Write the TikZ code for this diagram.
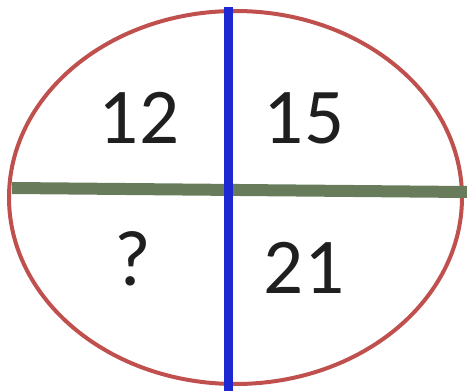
\documentclass[tikz,border=0pt]{standalone}
\usepackage{fontspec}
\setmainfont{Carlito}
\usetikzlibrary{positioning}
\definecolor{rimred}{RGB}{192,80,77}
\definecolor{splitblue}{RGB}{30,40,210}
\definecolor{splitgreen}{RGB}{104,124,92}

\begin{document}
\begin{tikzpicture}[x=1pt,y=-1pt,
  num/.style={font=\fontsize{79}{79}\selectfont,text=black!88,inner sep=0pt}]
  \useasboundingbox (0,0) rectangle (467,391);
  \draw[rimred,line width=4pt] (235.5,197.5) ellipse [x radius=226.5pt,y radius=186.5pt];
  \coordinate (w) at (12,188);
  \coordinate (e) at (467,192);
  \coordinate (n) at (228,7);
  \coordinate (s) at (228,391);
  \draw[splitgreen,line width=12pt] (w) -- (e);
  \draw[splitblue,line width=9pt] (n) -- (s);
  \node[num] (tl) at (139,118) {12};
  \node[num] (tr) at (304,118) {15};
  \node[num] (bl) at (133,259) {?};
  \node[num] (br) at (304,268) {21};
\end{tikzpicture}
\end{document}
